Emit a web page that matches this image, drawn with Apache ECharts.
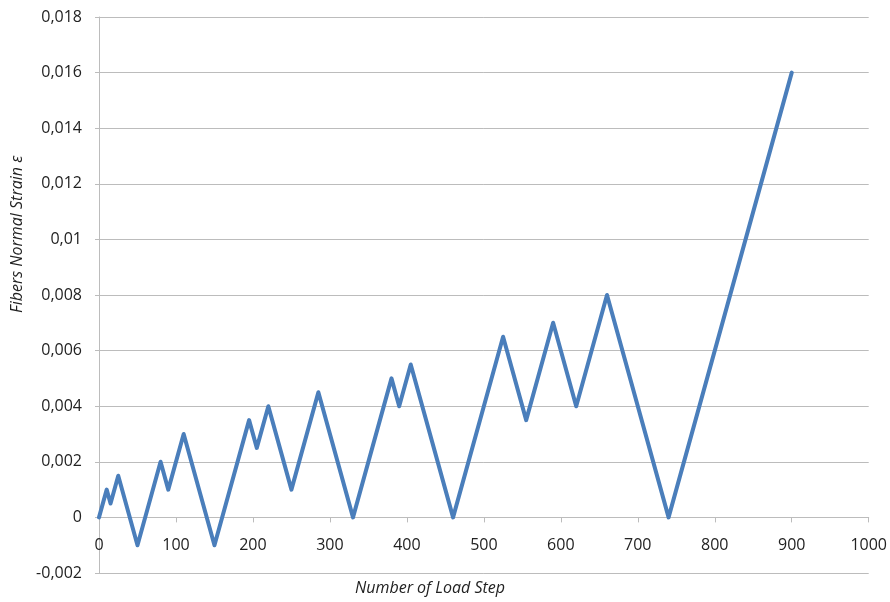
<!DOCTYPE html>
<html>
<head>
<meta charset="utf-8">
<script src="https://cdn.jsdelivr.net/npm/echarts@6/dist/echarts.min.js"></script>
<style>html,body{margin:0;padding:0;background:#fff}#c{width:890px;height:602px}</style>
</head>
<body>
<div id="c"></div>
<script>
var loadSteps = [0, 10, 15, 25, 50, 80, 90, 110, 150, 195, 205, 220, 250, 285, 330, 380, 390, 405, 460, 525, 555, 590, 620, 660, 740, 900];
var strainValues = [0, 0.001, 0.0005, 0.0015, -0.001, 0.002, 0.001, 0.003, -0.001, 0.0035, 0.0025, 0.004, 0.001, 0.0045, 0, 0.005, 0.004, 0.0055, 0, 0.0065, 0.0035, 0.007, 0.004, 0.008, 0, 0.016];
var xTitle = 'Number of Load Step';
var yTitle = 'Fibers Normal Strain \u03b5';

var data = loadSteps.map(function (x, i) { return [x, strainValues[i]]; });
function fmt(v) { return String(Number(v.toFixed(4))).replace('.', ','); }

var gridTop = 17, gridBottom = 29, H = 602;
var plotH = H - gridTop - gridBottom;
var zeroOffset = -plotH * (0 - (-0.002)) / (0.018 - (-0.002));

var chart = echarts.init(document.getElementById('c'), null, { renderer: 'canvas' });
chart.setOption({
  animation: false,
  backgroundColor: '#fff',
  grid: { left: 99, right: 19, top: gridTop, bottom: gridBottom, containLabel: false },
  xAxis: {
    type: 'value', min: 0, max: 1000, interval: 100,
    offset: zeroOffset,
    axisLine: { show: true, onZero: false, lineStyle: { color: '#bcbcbc', width: 1 } },
    axisTick: { show: true, length: 5, lineStyle: { color: '#bcbcbc' } },
    axisLabel: { margin: 20, color: '#222', fontFamily: 'Open Sans', fontSize: 16, formatter: function (v) { return String(v); } },
    splitLine: { show: false }
  },
  yAxis: {
    type: 'value', min: -0.002, max: 0.018, interval: 0.002,
    axisLine: { show: true, onZero: false, lineStyle: { color: '#bcbcbc', width: 1 } },
    axisTick: { show: true, length: 4, lineStyle: { color: '#bcbcbc' } },
    axisLabel: { margin: 17, color: '#222', fontFamily: 'Open Sans', fontSize: 16, formatter: fmt },
    splitLine: { show: true, lineStyle: { color: '#bcbcbc', width: 1 } }
  },
  graphic: [
    { type: 'text', left: 355, top: 580, style: { text: xTitle, font: 'italic 16px "Open Sans"', fill: '#222' } },
    { type: 'text', x: 9, y: 313, rotation: Math.PI / 2, style: { text: yTitle, font: 'italic 16px "Open Sans"', fill: '#222' } }
  ],
  series: [{
    type: 'line', data: data, showSymbol: false, symbol: 'none',
    lineStyle: { color: '#4a7ebb', width: 4, join: 'round', cap: 'round' }
  }]
});
</script>
</body>
</html>
